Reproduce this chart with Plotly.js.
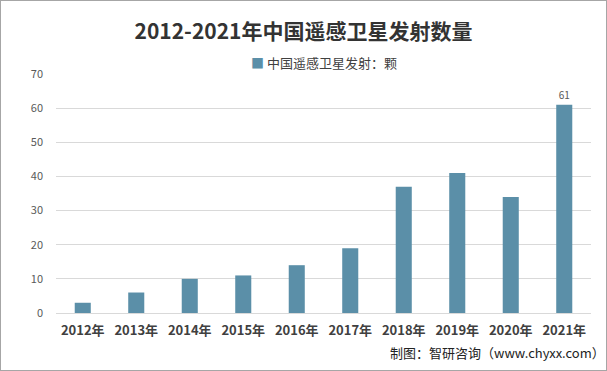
<!DOCTYPE html>
<html><head><meta charset="utf-8">
<script src="https://cdn.plot.ly/plotly-3.0.1.min.js"></script>
<style>html,body{margin:0;padding:0;background:#fff}#wrap{width:605px;height:369px;border:1px solid #a6a6a6}#chart{width:605px;height:369px}</style>
</head><body><div id="wrap"><div id="chart"></div></div>
<script>
const categories = ["2012年","2013年","2014年","2015年","2016年","2017年","2018年","2019年","2020年","2021年"];
const values = [3, 6, 10, 11, 14, 19, 37, 41, 34, 61];
const labels = ["","","","","","","","","","61"];
const seriesName = "中国遥感卫星发射：颗";
const titleText = "2012-2021年中国遥感卫星发射数量";
const sourceText = "制图：智研咨询（www.chyxx.com）";
const yTicks = [0,10,20,30,40,50,60,70];
const barColor = '#5b8fa8';

const font = "'Noto Sans CJK SC', 'Noto Sans', sans-serif";
Plotly.newPlot('chart', [{
  type: 'bar', x: categories, y: values, name: seriesName,
  marker: {color: barColor},
  text: labels, textposition: 'outside', cliponaxis: false,
  textfont: {size: 10, color: '#595959', family: font},
  hoverinfo: 'none', showlegend: false
}], {
  width: 605, height: 369,
  margin: {l: 55, r: 15, t: 73, b: 57},
  paper_bgcolor: '#fff', plot_bgcolor: '#fff',
  bargap: 0.7,
  title: {text: '<b>' + titleText + '</b>', x: 0.5, xanchor: 'center', y: 0.918, yanchor: 'middle',
          font: {size: 21, color: '#333333', family: font}},
  xaxis: {type: 'category', tickfont: {size: 13, color: '#404040', family: font}, showline: false, ticks: '', showgrid: false,
          tickprefix: '<b>', ticksuffix: '</b>', ticklabelstandoff: 8},
  yaxis: {range: [0, 70], tickvals: yTicks, showgrid: true, gridcolor: '#d9d9d9', gridwidth: 1,
          zeroline: true, zerolinecolor: '#d9d9d9', tickfont: {size: 11, color: '#595959', family: font},
          ticks: '', ticklabelstandoff: 12},
  annotations: [
    {text: '<span style="color:' + barColor + '">■</span> ' + seriesName, xref: 'paper', yref: 'paper',
     x: 0.5, y: 1.048, xanchor: 'center', yanchor: 'middle', showarrow: false,
     font: {size: 13, color: '#404040', family: font}},
    {text: sourceText, xref: 'paper', yref: 'paper', x: 1.03, y: -0.215, xanchor: 'right', yanchor: 'bottom',
     showarrow: false, font: {size: 13, color: '#222', family: font}}]
}, {displayModeBar: false, staticPlot: true});
</script></body></html>
